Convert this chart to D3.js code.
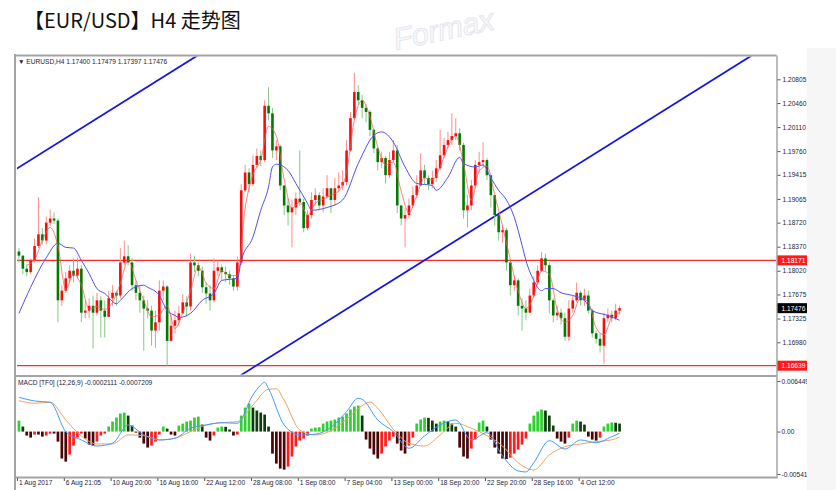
<!DOCTYPE html>
<html><head><meta charset="utf-8">
<script src="https://cdn.jsdelivr.net/npm/d3@7"></script>
<style>
html,body{margin:0;padding:0;background:#fff;}
svg{display:block;}
.ax text{font-family:"Liberation Sans",Arial,sans-serif;font-size:6.6px;fill:#1c1c3a;}
.ax line{stroke:#555;}
</style></head><body>
<svg id="c" width="836" height="490"></svg>
<script>
// ---------------- data ----------------
const title = "【EUR/USD】H4 走势图";
const watermark = "Formax";
const priceHeader = "▼ EURUSD,H4  1.17400 1.17479 1.17397 1.17476";
const macdHeader = "MACD [TF0] (12,26,9) -0.0002111 -0.0007209";
const timeLabels = ["1 Aug 2017","6 Aug 21:05","10 Aug 20:00","16 Aug 16:00","22 Aug 12:00","28 Aug 08:00","1 Sep 08:00","7 Sep 04:00","13 Sep 00:00","18 Sep 20:00","22 Sep 20:00","28 Sep 16:00","4 Oct 12:00"];
const timeTickBars = [0,12,24,36,48,60,72,84,96,108,120,132,144];
const priceTicks = [1.20805,1.20460,1.20110,1.19760,1.19415,1.19065,1.18720,1.18370,1.18020,1.17675,1.17325,1.16980];
const levelLines = [1.18171,1.16639];
const lastPrice = 1.17476;
const firstOpen = 1.1830;

const closes = [1.1824,1.1805,1.1800,1.1817,1.1838,1.1855,1.1846,1.1872,1.1878,1.1875,
1.1759,1.1773,1.1791,1.1802,1.1795,1.1805,1.1741,1.1744,1.1751,1.1741,
1.1759,1.1744,1.1735,1.1762,1.1770,1.1766,1.1814,1.1823,1.1814,1.1781,
1.1770,1.1759,1.1747,1.1744,1.1715,1.1727,1.1773,1.1779,1.1700,1.1722,
1.1730,1.1740,1.1756,1.1750,1.1814,1.1810,1.1802,1.1778,1.1769,1.1759,
1.1802,1.1807,1.1800,1.1797,1.1791,1.1779,1.1814,1.1919,1.1945,1.1928,
1.1956,1.1969,1.1963,1.2042,1.2031,1.1977,1.1983,1.1926,1.1897,1.1887,
1.1894,1.1907,1.1902,1.1864,1.1883,1.1905,1.1912,1.1897,1.1910,1.1922,
1.1905,1.1922,1.1926,1.1931,1.1977,1.2024,1.2062,1.2050,1.2039,1.2033,
1.2007,1.1980,1.1960,1.1966,1.1941,1.1963,1.1977,1.1897,1.1878,1.1883,
1.1897,1.1912,1.1926,1.1948,1.1937,1.1928,1.1937,1.1951,1.1970,1.1985,
1.1992,1.1998,1.2002,1.1985,1.1890,1.1897,1.1926,1.1956,1.1960,1.1963,
1.1941,1.1912,1.1883,1.1858,1.1861,1.1814,1.1781,1.1788,1.1751,1.1747,
1.1741,1.1766,1.1785,1.1802,1.1820,1.1810,1.1759,1.1737,1.1741,1.1733,
1.1706,1.1747,1.1759,1.1770,1.1759,1.1766,1.1744,1.1711,1.1703,1.1693,
1.1733,1.1738,1.1733,1.1744,1.17476];

const highs = [1.1835,1.1824,1.1811,1.1820,1.1849,1.1909,1.1864,1.1881,1.1891,1.1887,
1.1878,1.1781,1.1800,1.1810,1.1820,1.1821,1.1810,1.1759,1.1762,1.1766,
1.1770,1.1765,1.1759,1.1773,1.1781,1.1773,1.1835,1.1846,1.1839,1.1820,
1.1788,1.1781,1.1766,1.1759,1.1751,1.1744,1.1788,1.1788,1.1781,1.1737,
1.1744,1.1751,1.1768,1.1765,1.1827,1.1824,1.1814,1.1808,1.1785,1.1781,
1.1820,1.1817,1.1811,1.1808,1.1802,1.1794,1.1823,1.1928,1.1956,1.1951,
1.1970,1.1980,1.1977,1.2050,1.2069,1.2039,1.1992,1.1985,1.1926,1.1907,
1.1905,1.1916,1.1977,1.1907,1.1890,1.1916,1.1922,1.1916,1.1922,1.1941,
1.1922,1.1937,1.1945,1.1948,1.1992,1.2033,1.2090,1.2072,1.2058,1.2044,
1.2036,1.2009,1.1980,1.1975,1.1969,1.1975,1.1992,1.1985,1.1897,1.1893,
1.1907,1.1925,1.1941,1.1973,1.1956,1.1941,1.1948,1.1963,1.2007,1.1995,
1.2004,1.2031,1.2024,1.2009,1.1988,1.1912,1.1934,1.1963,1.1975,1.1989,
1.1966,1.1937,1.1905,1.1875,1.1868,1.1864,1.1817,1.1795,1.1791,1.1762,
1.1759,1.1776,1.1794,1.1810,1.1829,1.1827,1.1814,1.1762,1.1751,1.1747,
1.1741,1.1759,1.1766,1.1785,1.1773,1.1776,1.1773,1.1747,1.1715,1.1711,
1.1741,1.1747,1.1744,1.1754,1.1751];

const lows = [1.1814,1.1797,1.1794,1.1797,1.1814,1.1835,1.1840,1.1840,1.1867,1.1870,
1.1727,1.1751,1.1770,1.1785,1.1785,1.1791,1.1727,1.1733,1.1733,1.1689,
1.1737,1.1705,1.1705,1.1737,1.1751,1.1751,1.1762,1.1810,1.1810,1.1773,
1.1759,1.1741,1.1686,1.1733,1.1693,1.1690,1.1715,1.1759,1.1664,1.1700,
1.1711,1.1721,1.1740,1.1735,1.1744,1.1800,1.1794,1.1770,1.1754,1.1744,
1.1756,1.1794,1.1788,1.1785,1.1782,1.1773,1.1773,1.1810,1.1916,1.1916,
1.1925,1.1951,1.1954,1.1960,1.2021,1.1966,1.1963,1.1919,1.1883,1.1868,
1.1836,1.1883,1.1896,1.1858,1.1861,1.1878,1.1897,1.1890,1.1887,1.1907,
1.1886,1.1897,1.1916,1.1919,1.1926,1.1975,1.2021,1.2043,1.2024,1.2018,
1.1998,1.1973,1.1948,1.1951,1.1929,1.1937,1.1960,1.1886,1.1868,1.1836,
1.1878,1.1894,1.1907,1.1926,1.1928,1.1919,1.1922,1.1931,1.1948,1.1966,
1.1980,1.1985,1.1992,1.1977,1.1878,1.1865,1.1890,1.1922,1.1945,1.1953,
1.1934,1.1894,1.1868,1.1846,1.1843,1.1802,1.1766,1.1773,1.1737,1.1715,
1.1730,1.1741,1.1762,1.1781,1.1800,1.1802,1.1740,1.1727,1.1730,1.1724,
1.1700,1.1700,1.1741,1.1756,1.1751,1.1751,1.1740,1.1705,1.1696,1.1683,
1.1667,1.1727,1.1727,1.1730,1.1738];

// fast (red) moving average, one point every 2 bars from bar 2
const redMaStart = 2, redMaStep = 2;
const redMaVals = [1.1810,1.1818,1.1846,1.1865,1.1838,1.1775,1.1797,1.1781,1.1746,1.1750,
1.1746,1.1756,1.1784,1.1817,1.1788,1.1759,1.1735,1.1738,1.1751,1.1718,
1.1741,1.1773,1.1808,1.1784,1.1776,1.1802,1.1795,1.1795,1.1893,1.1942,
1.1963,1.2012,1.1998,1.1935,1.1893,1.1902,1.1883,1.1900,1.1906,1.1912,
1.1918,1.1945,1.2021,1.2050,1.2026,1.1982,1.1956,1.1960,1.1918,1.1886,
1.1912,1.1937,1.1934,1.1953,1.1982,1.1998,1.1958,1.1905,1.1947,1.1954,
1.1912,1.1867,1.1818,1.1773,1.1747,1.1765,1.1802,1.1797,1.1746,1.1727,
1.1737,1.1763,1.1756,1.1719,1.1709,1.1734,1.1741];

// slow (blue) moving average
const blueMaBars = [0,3,7,10,12,14,16,18,20,22,25,26,29,32,33,36,38,40,41,44,47,50,52,56,57,60,62,64,65,66,69,71,74,75,79,83,87,91,93,96,99,102,106,107,110,113,114,117,119,121,123,125,127,129,130,132,134,135,137,139,142,145,147,151,154];
const blueMaVals = [1.1740,1.1778,1.1821,1.1842,1.1836,1.1835,1.1817,1.1798,1.1776,1.1769,
1.1754,1.1759,1.1776,1.1781,1.1778,1.1766,1.1744,1.1737,1.1734,1.1740,
1.1759,1.1769,1.1788,1.1791,1.1817,1.1851,1.1890,1.1924,1.1953,1.1957,
1.1948,1.1929,1.1900,1.1890,1.1894,1.1905,1.1958,1.1999,1.2004,1.1989,
1.1953,1.1929,1.1926,1.1919,1.1938,1.1967,1.1958,1.1953,1.1956,1.1937,
1.1919,1.1905,1.1880,1.1839,1.1817,1.1788,1.1773,1.1776,1.1776,1.1770,
1.1766,1.1759,1.1744,1.1737,1.1730];

// trend channel lines: [bar, price] endpoints
const trendA = [[-1,1.19490],[50,1.21301]];
const trendB = [[56.7,1.16494],[190,1.21226]];

// MACD histogram per bar
const histVals = [0.00140,0.00064,-0.00051,-0.00077,-0.00038,-0.00038,-0.00064,-0.00051,-0.00026,-0.00026,
-0.00128,-0.00344,-0.00383,-0.00293,-0.00179,-0.00077,-0.00026,-0.00089,-0.00166,-0.00179,
-0.00128,-0.00051,-0.00026,0.00064,0.00128,0.00179,0.00230,0.00242,0.00204,0.00077,
-0.00013,-0.00077,-0.00153,-0.00204,-0.00179,-0.00128,-0.00038,0.00064,0.00038,-0.00038,
-0.00051,0.00077,0.00102,0.00128,0.00140,0.00179,0.00191,0.00089,-0.00077,-0.00115,
-0.00051,0.00051,0.00064,0.00060,0.00026,-0.00051,-0.00038,0.00204,0.00306,0.00357,
0.00306,0.00268,0.00242,0.00217,0.00064,-0.00281,-0.00408,-0.00472,-0.00485,-0.00446,
-0.00319,-0.00191,-0.00115,-0.00089,-0.00051,0.00038,0.00051,0.00055,0.00102,0.00128,
0.00140,0.00153,0.00179,0.00191,0.00230,0.00281,0.00319,0.00332,0.00204,-0.00102,
-0.00217,-0.00293,-0.00344,-0.00281,-0.00191,-0.00115,-0.00064,-0.00153,-0.00242,-0.00281,
-0.00179,-0.00077,0.00102,0.00153,0.00179,0.00175,0.00140,0.00102,0.00128,0.00140,
0.00128,0.00102,0.00064,-0.00204,-0.00319,-0.00344,-0.00217,-0.00102,0.00115,0.00140,
0.00064,-0.00102,-0.00204,-0.00281,-0.00344,-0.00350,-0.00332,-0.00281,-0.00230,-0.00166,
-0.00089,0.00102,0.00204,0.00255,0.00281,0.00268,0.00204,0.00077,-0.00089,-0.00128,
-0.00153,-0.00077,0.00102,0.00140,0.00128,0.00089,-0.00064,-0.00102,-0.00115,-0.00077,
0.00064,0.00102,0.00115,0.00112,0.00102];

const macdBars = [0,4,8,12,16,20,24,28,32,36,40,44,48,52,56,60,62,63,64,68,72,76,80,84,87,88,92,96,100,104,108,112,116,120,124,128,130,132,136,140,144,148,152,154];
const macdVals = [0.00437,0.00390,0.00374,-0.00001,-0.00107,-0.00184,-0.00149,0.00084,-0.00043,-0.00107,
-0.00085,0.00042,0.00084,0.00113,0.00106,0.00467,0.00594,0.00629,0.00548,0.00084,
-0.00043,-0.00034,0.00055,0.00254,0.00425,0.00412,0.00148,-0.00001,-0.00213,-0.00056,
0.00084,0.00148,-0.00107,-0.00014,-0.00311,-0.00502,-0.00515,-0.00397,-0.00116,-0.00222,
-0.00107,-0.00142,-0.00065,-0.00021];
const signalBars = [0,4,8,12,16,20,24,28,32,36,40,44,48,52,56,60,64,66,68,72,76,80,84,88,90,92,96,100,104,108,112,116,120,124,128,132,136,140,144,148,152,154];
const signalVals = [0.00394,0.00361,0.00374,0.00148,-0.00056,-0.00158,-0.00158,-0.00043,-0.00052,-0.00107,
-0.00085,-0.00001,0.00084,0.00113,0.00126,0.00339,0.00539,0.00545,0.00400,0.00020,
-0.00043,0.00011,0.00157,0.00330,0.00377,0.00297,0.00029,-0.00149,-0.00184,-0.00043,
0.00106,0.00042,-0.00052,-0.00184,-0.00397,-0.00490,-0.00298,-0.00193,-0.00158,-0.00129,
-0.00105,-0.00072];
const macdTicks = [0.006449,0,-0.00541];
const macdTickLabels = ["0.006449","0.00","-0.005410"];

// ---------------- layout ----------------
const W = 836, H = 490;
const plotL = 16, plotR = 776.5, mainT = 55.5, mainB = 375.5, macdT = 377, macdB = 477.5;
const svg = d3.select('#c');

// background strip on right, chart window
svg.append('rect').attr('x',807).attr('y',48).attr('width',W-807).attr('height',H-48).attr('fill','#f6f6f7');
svg.append('rect').attr('x',13).attr('y',53).attr('width',794).attr('height',H-53).attr('fill','#fff');

// watermark (faint)
svg.append('text').attr('transform','translate(396,50) rotate(-12)')
  .attr('font-family','Liberation Sans, Arial').attr('font-size',30).attr('font-style','italic')
  .attr('fill','none').attr('stroke','#e8e8ef').attr('stroke-width',1.2).text(watermark);

// title
svg.append('text').attr('x',24).attr('y',28).attr('font-family','"Noto Sans CJK SC","Noto Sans",sans-serif')
  .attr('font-size',20).attr('fill','#111').text(title);

const clipW = svg.append('defs');
clipW.append('clipPath').attr('id','mainClip').append('rect').attr('x',plotL+1).attr('y',mainT+1).attr('width',plotR-plotL-1.5).attr('height',mainB-mainT-2);
clipW.append('clipPath').attr('id','macdClip').append('rect').attr('x',plotL+1).attr('y',macdT).attr('width',plotR-plotL-1.5).attr('height',macdB-macdT-1);
clipW.append('clipPath').attr('id','winClip').append('rect').attr('x',0).attr('y',0).attr('width',807).attr('height',H);

// scales
const x = d3.scaleLinear().domain([0,194]).range([17,773.6]);
const xc = i => x(i + 0.5);
const y = d3.scaleLinear().domain([1.16639,1.20805]).range([365.7,79.3]);
const ym = d3.scaleLinear().domain([-0.00541,0.006449]).range([474,381]);

// ---------------- main panel ----------------
const gMain = svg.append('g').attr('clip-path','url(#mainClip)');

// level lines
gMain.selectAll('line.lvl').data(levelLines).join('line')
  .attr('x1',plotL).attr('x2',plotR).attr('y1',d=>y(d)).attr('y2',d=>y(d))
  .attr('stroke','#ff2a2a').attr('stroke-width',1.2);

// trend lines
[trendA,trendB].forEach(t=>{
  gMain.append('line').attr('x1',xc(t[0][0])).attr('y1',y(t[0][1])).attr('x2',xc(t[1][0])).attr('y2',y(t[1][1]))
    .attr('stroke','#1414e6').attr('stroke-width',1.8);
});

// candles
const bars = closes.map((c,i)=>{
  const o = i===0 ? firstOpen : closes[i-1];
  return {i,o,c,h:Math.max(highs[i],o,c),l:Math.min(lows[i],o,c),up:c>=o};
});
gMain.selectAll('line.wick').data(bars).join('line')
  .attr('x1',d=>xc(d.i)).attr('x2',d=>xc(d.i)).attr('y1',d=>y(d.h)).attr('y2',d=>y(d.l))
  .attr('stroke',d=>d.up?'#ff8c8c':'#86c886').attr('stroke-width',1);
gMain.selectAll('rect.body').data(bars).join('rect')
  .attr('x',d=>xc(d.i)-1.3).attr('width',2.6)
  .attr('y',d=>Math.min(y(d.o),y(d.c))).attr('height',d=>Math.max(1,Math.abs(y(d.o)-y(d.c))))
  .attr('fill',d=>d.up?'#ff0a0a':'#007a00');

// moving averages
const redMa = redMaVals.map((v,k)=>[redMaStart+k*redMaStep, v]);
gMain.append('path').datum(redMa)
  .attr('d',d3.line().x(d=>xc(d[0])).y(d=>y(d[1])).curve(d3.curveMonotoneX))
  .attr('fill','none').attr('stroke','#ff5a5a').attr('stroke-opacity',0.75).attr('stroke-width',1);
const blueMa = blueMaBars.map((b,k)=>[b, blueMaVals[k]]);
gMain.append('path').datum(blueMa)
  .attr('d',d3.line().x(d=>xc(d[0])).y(d=>y(d[1])).curve(d3.curveMonotoneX))
  .attr('fill','none').attr('stroke','#5050f0').attr('stroke-width',1);

// header
svg.append('text').attr('x',18).attr('y',64).attr('font-family','"Liberation Sans",Arial,sans-serif')
  .attr('font-size',6.6).attr('fill','#1c1c3a').text(priceHeader);

// ---------------- MACD panel ----------------
const gM = svg.append('g').attr('clip-path','url(#macdClip)');
gM.selectAll('rect.h').data(histVals).join('rect')
  .attr('x',(d,i)=>xc(i)-1.35).attr('width',2.7)
  .attr('y',d=>Math.min(ym(d),ym(0))).attr('height',d=>Math.max(0.8,Math.abs(ym(d)-ym(0))))
  .attr('fill',(d,i)=>{
    const p = i===0 ? d : histVals[i-1];
    if (d>=0) return d>=p ? '#2fd02f' : '#0d3d0d';
    return d<=p ? '#4a0606' : '#ff1c1c';
  });
const macdLine = macdBars.map((b,k)=>[b,macdVals[k]]);
const sigLine = signalBars.map((b,k)=>[b,signalVals[k]]);
gM.append('path').datum(sigLine)
  .attr('d',d3.line().x(d=>xc(d[0])).y(d=>ym(d[1])).curve(d3.curveMonotoneX))
  .attr('fill','none').attr('stroke','#f0a060').attr('stroke-width',1);
gM.append('path').datum(macdLine)
  .attr('d',d3.line().x(d=>xc(d[0])).y(d=>ym(d[1])).curve(d3.curveMonotoneX))
  .attr('fill','none').attr('stroke','#3d9cff').attr('stroke-width',1);

svg.append('text').attr('x',18).attr('y',385).attr('font-family','"Liberation Sans",Arial,sans-serif')
  .attr('font-size',6.6).attr('fill','#1c1c3a').text(macdHeader);

// ---------------- frame ----------------
const fr = svg.append('g').attr('stroke','#a4a4a4').attr('stroke-width',2).attr('fill','none');
fr.append('line').attr('x1',15).attr('x2',15).attr('y1',54).attr('y2',H);
fr.append('line').attr('x1',14).attr('x2',plotR).attr('y1',mainT).attr('y2',mainT);
fr.append('line').attr('x1',14).attr('x2',plotR).attr('y1',376).attr('y2',376);
fr.append('line').attr('x1',14).attr('x2',plotR).attr('y1',macdB).attr('y2',macdB);
fr.append('line').attr('x1',plotR+0.5).attr('x2',plotR+0.5).attr('y1',mainT).attr('y2',macdB+1).attr('stroke-width',1.5);

// ---------------- axes ----------------
const gAx = svg.append('g').attr('clip-path','url(#winClip)');
const pa = gAx.append('g').attr('class','ax').attr('transform',`translate(${plotR+1},0)`)
  .call(d3.axisRight(y).tickValues(priceTicks).tickSize(3).tickPadding(2).tickFormat(d3.format('.5f')));
pa.select('.domain').remove();

// level & last price boxes
const boxes = levelLines.map(v=>({v,fill:'#ff1a1a'})).concat([{v:lastPrice,fill:'#000'}]);
const bx = gAx.selectAll('g.box').data(boxes).join('g').attr('transform',d=>`translate(${plotR+1},${y(d.v)})`);
bx.append('rect').attr('x',0).attr('y',-5).attr('width',38).attr('height',10).attr('fill',d=>d.fill);
bx.append('text').attr('x',4).attr('y',2.4).attr('font-family','"Liberation Sans",Arial,sans-serif')
  .attr('font-size',6.6).attr('fill','#fff').text(d=>d3.format('.5f')(d.v));

const ma = gAx.append('g').attr('class','ax').attr('transform',`translate(${plotR+1},0)`)
  .call(d3.axisRight(ym).tickValues(macdTicks).tickSize(3).tickPadding(1).tickFormat((d,k)=>macdTickLabels[k]));
ma.select('.domain').remove();
ma.selectAll('text').attr('font-size',6.2);

const ta = gAx.append('g').attr('class','ax').attr('transform',`translate(0,${macdB+0.5})`)
  .call(d3.axisBottom(x).tickValues(timeTickBars).tickSize(3).tickFormat((d,k)=>timeLabels[k]));
ta.select('.domain').remove();
ta.selectAll('text').attr('text-anchor','start').attr('dx',1.5).attr('dy','0.1em');
</script>
</body></html>
